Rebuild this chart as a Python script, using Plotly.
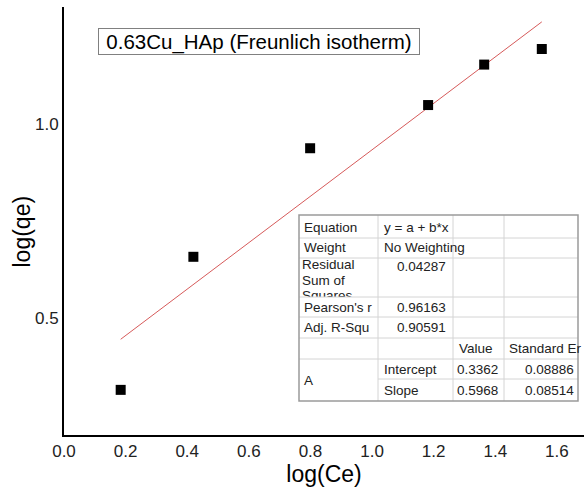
import plotly.graph_objects as go

# Freundlich isotherm data (log form)
log_ce = [0.184, 0.420, 0.799, 1.182, 1.364, 1.551]
log_qe = [0.316, 0.658, 0.937, 1.048, 1.152, 1.192]

# Linear fit results: y = a + b*x
intercept = 0.3362
slope = 0.5968
intercept_err = "0.08886"
slope_err = "0.08514"
rss = "0.04287"
pearson_r = "0.96163"
adj_r2 = "0.90591"

x_ticks = [0.0, 0.2, 0.4, 0.6, 0.8, 1.0, 1.2, 1.4, 1.6]
y_ticks = [0.5, 1.0]

FONT = "Liberation Sans, Arial, sans-serif"
W, H = 584, 489
ML, MR, MT, MB = 64, 0, 7, 54
PW, PH = W - ML - MR, H - MT - MB

fit_x = [min(log_ce), max(log_ce)]
fit_y = [intercept + slope * v for v in fit_x]

fig = go.Figure()

fig.add_trace(go.Scatter(
    x=fit_x, y=fit_y, mode="lines",
    line=dict(color="#d65a5a", width=1), showlegend=False, hoverinfo="skip",
))
fig.add_trace(go.Scatter(
    x=log_ce, y=log_qe, mode="markers",
    marker=dict(symbol="square", size=10, color="black"),
    showlegend=False,
))

# Overlay axes in pixel units for the fit-results table
px_x = [ML, W - MR]
px_y = [H - MB, MT]

# Multi-line header cell (its last line is cut off by the next row)
fig.add_trace(go.Scatter(
    x=[302, 302, 302], y=[266, 282, 297],
    text=["Residual", "Sum of", "Squares"],
    mode="text", textposition="middle right",
    textfont=dict(family=FONT, size=13.5, color="#222"),
    xaxis="x2", yaxis="y2", showlegend=False, hoverinfo="skip",
))

# Table geometry (pixels)
col_edges = [299, 378, 453, 504, 578]
row_edges = [215, 238, 258, 297, 317, 338, 359, 379, 401]

shapes = []
# cover the overflow of the multi-line cell
shapes.append(dict(type="rect", xref="x2", yref="y2", layer="above",
                   x0=col_edges[0] + 0.5, x1=col_edges[1] - 0.5,
                   y0=row_edges[3], y1=row_edges[4],
                   fillcolor="white", line=dict(width=0)))
inner = dict(color="#d4d4d4", width=1)
for y in row_edges[1:-1]:
    x0 = col_edges[0]
    if y == row_edges[7]:
        x0 = col_edges[1]  # "A" spans two rows
    shapes.append(dict(type="line", xref="x2", yref="y2", layer="above",
                       x0=x0, x1=col_edges[-1], y0=y, y1=y, line=inner))
for x in col_edges[1:-1]:
    shapes.append(dict(type="line", xref="x2", yref="y2", layer="above",
                       x0=x, x1=x, y0=row_edges[0], y1=row_edges[-1], line=inner))
shapes.append(dict(type="rect", xref="x2", yref="y2", layer="above",
                   x0=col_edges[0], x1=col_edges[-1],
                   y0=row_edges[0], y1=row_edges[-1],
                   line=dict(color="#9a9a9a", width=1.5)))

cells = [
    ("Equation", 302, 227, "left"), ("y = a + b*x", 382, 227, "left"),
    ("Weight", 302, 247, "left"), ("No Weighting", 382, 247, "left"),
    (rss, 448, 266, "right"),
    ("Pearson's r", 302, 307, "left"), (pearson_r, 448, 307, "right"),
    ("Adj. R-Squ", 302, 327, "left"), (adj_r2, 448, 327, "right"),
    ("Value", 457, 348, "left"), ("Standard Er", 507, 348, "left"),
    ("A", 302, 380, "left"),
    ("Intercept", 382, 369, "left"), (f"{intercept:.4f}", 500, 369, "right"),
    (intercept_err, 576, 369, "right"),
    ("Slope", 382, 390, "left"), (f"{slope:.4f}", 500, 390, "right"),
    (slope_err, 576, 390, "right"),
]
annotations = []
for text, x, y, anchor in cells:
    annotations.append(dict(
        text=text, x=x, y=y, xref="x2", yref="y2",
        xanchor=anchor, yanchor="middle", showarrow=False,
        font=dict(family=FONT, size=13.5, color="#222"),
    ))

annotations.append(dict(
    text="0.63Cu_HAp (Freunlich isotherm)", x=258.5, y=41.5,
    xref="x2", yref="y2", xanchor="center", yanchor="middle",
    showarrow=False, width=320, height=25, borderpad=0,
    bordercolor="#808080", borderwidth=1,
    font=dict(family=FONT, size=20.5, color="black"),
))

# y-axis title, placed slightly below the axis midpoint
annotations.append(dict(
    text="log(qe)", x=(21.5 - ML) / PW, y=(H - MB - 232) / PH,
    xref="paper", yref="paper",
    xanchor="center", yanchor="middle", textangle=-90, showarrow=False,
    font=dict(family=FONT, size=23, color="black"),
))

fig.update_layout(
    width=W, height=H,
    margin=dict(l=ML, r=MR, t=MT, b=MB),
    paper_bgcolor="white", plot_bgcolor="white",
    font=dict(family=FONT, color="black"),
    xaxis=dict(
        range=[0, 1.688], tickvals=x_ticks, tickformat=".1f",
        showline=True, linecolor="black", linewidth=2,
        showgrid=False, zeroline=False, ticks="",
        tickfont=dict(family=FONT, size=17, color="#222"),
        title=dict(text="log(Ce)", font=dict(family=FONT, size=23), standoff=2),
    ),
    yaxis=dict(
        range=[0.2, 1.3], tickvals=y_ticks, tickformat=".1f",
        showline=True, linecolor="black", linewidth=2,
        showgrid=False, zeroline=False, ticks="",
        tickfont=dict(family=FONT, size=17, color="#222"),
    ),
    xaxis2=dict(range=px_x, overlaying="x", visible=False, fixedrange=True),
    yaxis2=dict(range=px_y, overlaying="y", visible=False, fixedrange=True),
    shapes=shapes,
    annotations=annotations,
    showlegend=False,
)

fig.write_html("out.html")
